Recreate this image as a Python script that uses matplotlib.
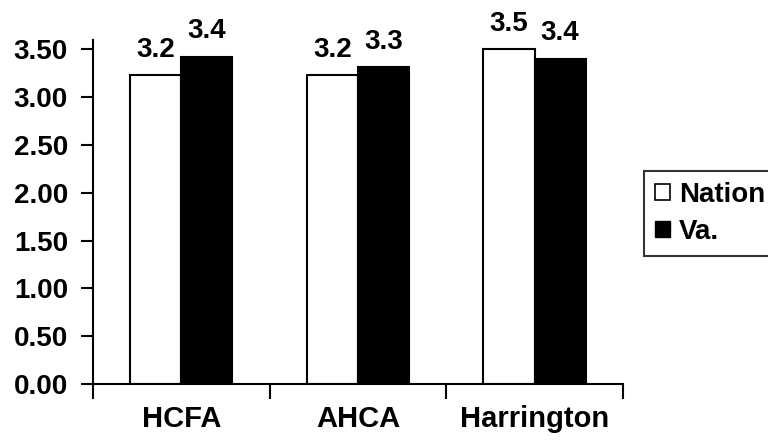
import numpy as np
import matplotlib
matplotlib.use("Agg")
from matplotlib import pyplot as plt
from matplotlib.patches import Patch

categories = ["HCFA", "AHCA", "Harrington"]
nation = [3.23, 3.23, 3.50]
va = [3.42, 3.31, 3.40]
nation_labels = ["3.2", "3.2", "3.5"]
va_labels = ["3.4", "3.3", "3.4"]
y_ticks = [0.0, 0.5, 1.0, 1.5, 2.0, 2.5, 3.0, 3.5]

plt.rcParams["font.family"] = ["Liberation Sans", "DejaVu Sans"]
plt.rcParams["font.weight"] = "bold"

fig = plt.figure(figsize=(7.68, 4.46), dpi=100)
ax = fig.add_axes([0.121, 0.139, 0.69, 0.772])

x = np.arange(len(categories))
w = 0.29
b1 = ax.bar(x - w / 2, nation, w, color="white", edgecolor="black", linewidth=1.5)
b2 = ax.bar(x + w / 2, va, w, color="black", edgecolor="black", linewidth=1.5)

for _bar, _lab in zip(b1, nation_labels):
    ax.text(_bar.get_x() + _bar.get_width() / 2, _bar.get_height() + 0.13, _lab,
            ha="center", va="bottom", fontsize=20, fontweight="bold")
for _bar, _lab in zip(b2, va_labels):
    ax.text(_bar.get_x() + _bar.get_width() / 2, _bar.get_height() + 0.13, _lab,
            ha="center", va="bottom", fontsize=20, fontweight="bold")

ax.set_xlim(-0.5, 2.5)
ax.set_ylim(0, 3.6)
ax.set_yticks(y_ticks)
ax.set_yticklabels([f"{v:.2f}" for v in y_ticks], fontsize=20, fontweight="bold")
ax.set_xticks([-0.5, 0.5, 1.5, 2.5])
ax.set_xticklabels([])
ax.set_xticks(x, minor=True)
ax.set_xticklabels(categories, minor=True, fontsize=21, fontweight="bold")
ax.tick_params(axis="x", which="minor", length=0, pad=15)
ax.tick_params(axis="x", which="major", length=11, width=1.5, direction="out")
ax.tick_params(axis="y", length=9, width=1.5, direction="out", pad=9)

for _s in ["top", "right"]:
    ax.spines[_s].set_visible(False)
for _s in ["left", "bottom"]:
    ax.spines[_s].set_linewidth(1.5)

handles = [Patch(facecolor="white", edgecolor="black", linewidth=1.2, label="Nation"),
           Patch(facecolor="black", edgecolor="black", label="Va.")]
leg = fig.legend(handles=handles, loc="lower left", bbox_to_anchor=(644 / 768, 1 - 256 / 446),
                 prop={"size": 20, "weight": "bold"}, frameon=True, fancybox=False,
                 handlelength=0.55, handleheight=0.55, handletextpad=0.3, borderpad=0.4,
                 labelspacing=0.4, borderaxespad=0)
leg.get_frame().set_edgecolor("black")
leg.get_frame().set_linewidth(1.5)

fig.savefig("out.png", dpi=100)
